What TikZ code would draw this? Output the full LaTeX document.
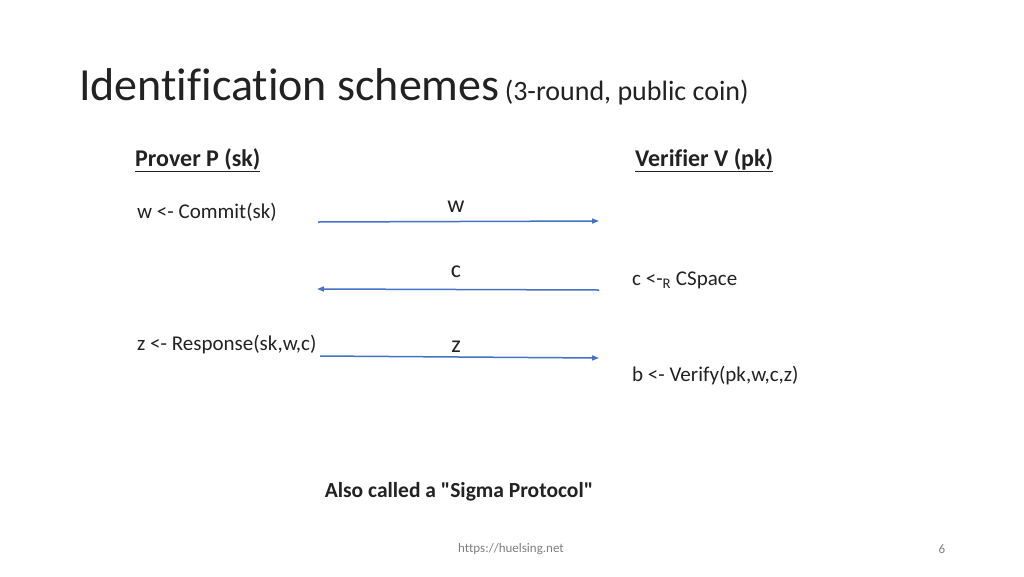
\documentclass[tikz,border=0pt]{standalone}
\usepackage{fontspec}
\setmainfont[Ligatures=NoCommon]{Carlito}
\usetikzlibrary{arrows.meta}
\definecolor{arr}{HTML}{4472C4}
\definecolor{txt}{HTML}{222222}
\begin{document}
\begin{tikzpicture}[x=1pt,y=-1pt,
  lbl/.style={anchor=west,inner sep=0,text=txt,font=\fontsize{21}{23}\selectfont},
  msg/.style={inner sep=0,text=txt,font=\fontsize{24}{26}\selectfont},
  head/.style={anchor=west,inner sep=0,text=txt,font=\fontsize{24}{26}\selectfont\bfseries},
  flow/.style={arr,line width=1.5pt,-{Triangle[length=7pt,width=5pt]}}]
\useasboundingbox[fill=white] (0,0) rectangle (1024,576);
\node[anchor=base west,inner sep=0,text=txt,font=\fontsize{46}{50}\selectfont] (t) at (79,100) {Identification schemes};
\node[anchor=base west,inner sep=0,text=txt,font=\fontsize{28}{30}\selectfont] (t2) at (t.base east) {\,(3-round, public coin)};
\node[head] (p) at (135,160) {\underline{Prover P (sk)}};
\node[head] (v) at (635,160) {\underline{Verifier V (pk)}};
\node[lbl] (l1) at (137,212) {w <- Commit(sk)};
\node[lbl] (l2) at (137,345) {z <- Response(sk,w,c)};
\node[lbl] (r1) at (632,280) {c <-\textsubscript{R} CSpace};
\node[lbl] (r2) at (632,376) {b <- Verify(pk,w,c,z)};
\coordinate (a1) at (318,222); \coordinate (b1) at (599,221);
\coordinate (a2) at (599,290); \coordinate (b2) at (317,289);
\coordinate (a3) at (320,356); \coordinate (b3) at (599,358);
\draw[flow] (a1) -- (b1);
\draw[flow] (a2) -- (b2);
\draw[flow] (a3) -- (b3);
\node[msg] (w) at (456,207) {w};
\node[msg] (c) at (456,272) {c};
\node[msg] (z) at (456,347) {z};
\node[inner sep=0,text=txt,font=\fontsize{21.5}{23}\selectfont\bfseries] (s) at (459,492) {Also called a \textquotedbl Sigma Protocol\textquotedbl};
\node[inner sep=0,text=gray,font=\fontsize{13}{14}\selectfont] (f) at (511,549) {https://huelsing.net};
\node[inner sep=0,text=gray,font=\fontsize{13}{14}\selectfont] (n) at (942,549) {6};
\end{tikzpicture}
\end{document}
